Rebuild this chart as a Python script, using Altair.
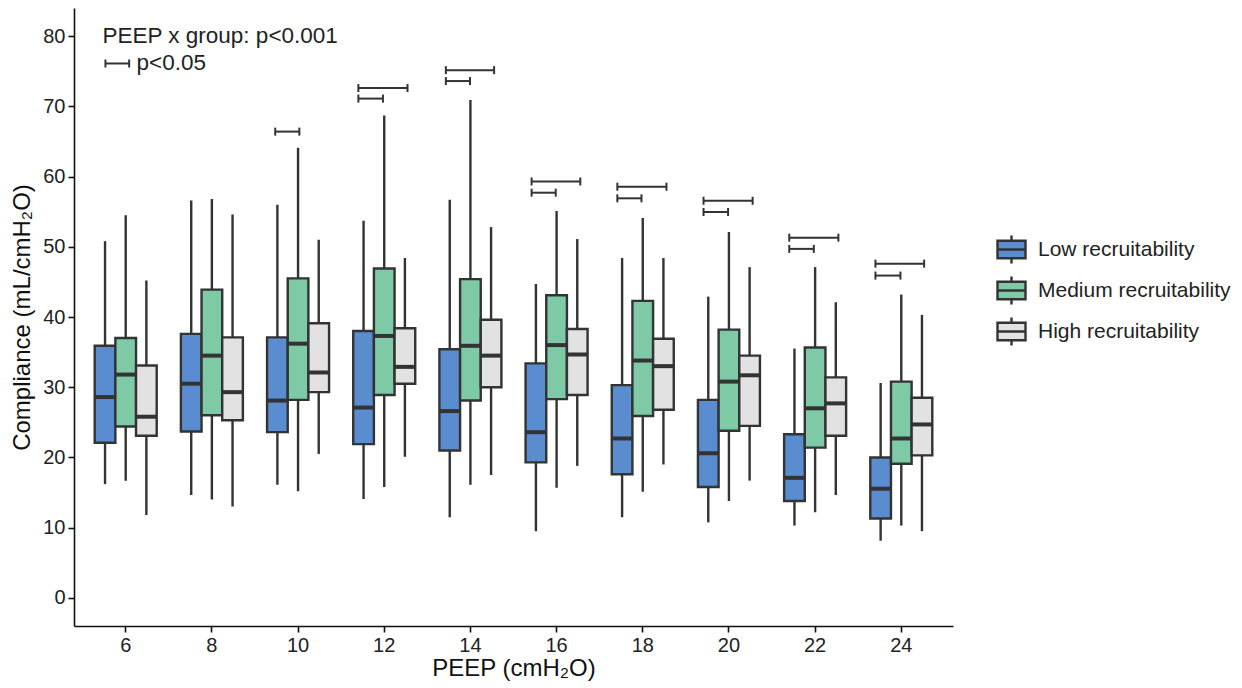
import altair as alt
import pandas as pd

peep = [6, 8, 10, 12, 14, 16, 18, 20, 22, 24]
groups = ["Low recruitability", "Medium recruitability", "High recruitability"]
colors = ["#5a8dd0", "#7ecaa6", "#e2e2e2"]

# five-number summaries (whisker low, Q1, median, Q3, whisker high)
low_lo = [16.2, 14.65, 16.1, 14.1, 11.5, 9.5, 11.5, 10.75, 10.3, 8.15]
low_q1 = [22.1, 23.7, 23.6, 21.9, 21.0, 19.3, 17.6, 15.8, 13.8, 11.3]
low_med = [28.6, 30.5, 28.1, 27.1, 26.6, 23.6, 22.7, 20.6, 17.1, 15.55]
low_q3 = [35.9, 37.6, 37.1, 38.0, 35.4, 33.4, 30.3, 28.2, 23.3, 20.0]
low_hi = [50.8, 56.6, 56.0, 53.7, 56.7, 44.7, 48.4, 42.9, 35.5, 30.6]

med_lo = [16.7, 14.0, 15.2, 15.8, 16.1, 15.7, 15.1, 13.8, 12.2, 10.3]
med_q1 = [24.4, 26.0, 28.2, 28.9, 28.1, 28.3, 25.9, 23.8, 21.4, 19.1]
med_med = [31.8, 34.5, 36.2, 37.3, 35.9, 36.0, 33.8, 30.8, 27.0, 22.7]
med_q3 = [37.0, 43.9, 45.5, 46.9, 45.4, 43.1, 42.3, 38.2, 35.65, 30.8]
med_hi = [54.5, 56.8, 64.1, 68.7, 70.9, 55.1, 54.1, 52.1, 47.1, 43.2]

high_lo = [11.8, 13.0, 20.5, 20.1, 17.5, 18.8, 19.0, 16.7, 14.65, 9.5]
high_q1 = [23.1, 25.3, 29.3, 30.5, 30.0, 28.9, 26.8, 24.5, 23.1, 20.3]
high_med = [25.8, 29.3, 32.1, 32.9, 34.5, 34.65, 33.0, 31.7, 27.7, 24.7]
high_q3 = [33.1, 37.1, 39.1, 38.4, 39.6, 38.3, 36.9, 34.5, 31.4, 28.5]
high_hi = [45.2, 54.6, 51.0, 48.4, 52.8, 51.1, 48.4, 47.1, 42.1, 40.3]

# significance brackets (x in PEEP units, y in compliance units); first one is the key
br_x1 = [5.53, 9.47, 11.40, 11.40, 13.43, 13.43, 15.42, 15.42, 17.41, 17.41, 19.41, 19.41, 21.40, 21.40, 23.40, 23.40]
br_x2 = [6.08, 10.03, 11.97, 12.54, 13.99, 14.55, 15.98, 16.55, 17.97, 18.55, 19.98, 20.55, 21.97, 22.54, 23.98, 24.53]
br_y = [76.1, 66.4, 71.1, 72.6, 73.6, 75.15, 57.7, 59.3, 56.9, 58.55, 54.95, 56.55, 49.7, 51.3, 45.9, 47.6]

note_text = ["PEEP x group: p<0.001", "p<0.05"]
note_x = [5.46, 6.25]
note_y = [80.0, 76.1]

rows = []
for g, lo, q1, md, q3, hi in [
    (groups[0], low_lo, low_q1, low_med, low_q3, low_hi),
    (groups[1], med_lo, med_q1, med_med, med_q3, med_hi),
    (groups[2], high_lo, high_q1, high_med, high_q3, high_hi),
]:
    for i, p in enumerate(peep):
        rows.append(dict(peep=p, group=g, lo=lo[i], q1=q1[i], med=md[i], q3=q3[i], hi=hi[i]))
box_df = pd.DataFrame(rows)

br_df = pd.DataFrame(dict(x1=br_x1, x2=br_x2, y=br_y))
cap_df = pd.DataFrame(dict(x=br_x1 + br_x2, y=br_y + br_y))
note_df = pd.DataFrame(dict(text=note_text, x=note_x, y=note_y))

FONT = "Liberation Sans"
DARK = "#333333"
ydom = [-4, 84]

xband = alt.X(
    "peep:O",
    sort=peep,
    scale=alt.Scale(paddingInner=0, paddingOuter=0.1),
    axis=alt.Axis(title="PEEP (cmH₂O)", labelAngle=0, tickBand="center", titlePadding=1),
)
xoff = alt.XOffset("group:N", sort=groups, scale=alt.Scale(paddingInner=0, paddingOuter=0.585))
yscale = alt.Scale(domain=ydom, nice=False, zero=False)

base = alt.Chart(box_df)

whisk = base.mark_rule(color=DARK, strokeWidth=2.4).encode(
    x=xband,
    xOffset=xoff,
    y=alt.Y("lo:Q", scale=yscale, axis=alt.Axis(title="Compliance (mL/cmH₂O)", values=list(range(0, 81, 10)), titlePadding=8)),
    y2="hi:Q",
)

boxes = base.mark_bar(stroke=DARK, strokeWidth=2.4).encode(
    x=xband,
    xOffset=xoff,
    y=alt.Y("q1:Q", scale=yscale),
    y2="q3:Q",
    fill=alt.Fill(
        "group:N",
        sort=groups,
        scale=alt.Scale(domain=groups, range=colors),
        legend=alt.Legend(
            title=None,
            orient="none",
            legendX=922,
            legendY=226,
            symbolType="M-1,-0.62H1V0.62H-1Z M-1,0H1 M0,-0.62V-1 M0,0.62V1",
            symbolSize=784,
            symbolStrokeColor=DARK,
            symbolStrokeWidth=2.4,
            symbolOpacity=1,
            labelFontSize=21,
            labelFont=FONT,
            labelColor="#222222",
            labelOffset=11,
            labelLimit=300,
            rowPadding=2,
        ),
    ),
)

medians = base.mark_tick(color=DARK, thickness=4, size=21, opacity=1).encode(
    x=xband,
    xOffset=xoff,
    y=alt.Y("med:Q", scale=yscale),
)

box_layer = alt.layer(whisk, boxes, medians)

xq = alt.Scale(domain=[4.8, 25.2], nice=False, zero=False)

br_lines = alt.Chart(br_df).mark_rule(color=DARK, strokeWidth=2).encode(
    x=alt.X("x1:Q", scale=xq, axis=None),
    x2="x2:Q",
    y=alt.Y("y:Q", scale=yscale),
)
br_caps = alt.Chart(cap_df).mark_tick(color=DARK, orient="vertical", size=8, thickness=2, opacity=1).encode(
    x=alt.X("x:Q", scale=xq, axis=None),
    y=alt.Y("y:Q", scale=yscale),
)
notes = alt.Chart(note_df).mark_text(align="left", baseline="middle", font=FONT, fontSize=22.5, color="#222222").encode(
    x=alt.X("x:Q", scale=xq, axis=None),
    y=alt.Y("y:Q", scale=yscale),
    text="text:N",
)
note_layer = alt.layer(br_lines, br_caps, notes)

chart = (
    alt.layer(box_layer, note_layer)
    .resolve_scale(x="independent")
    .properties(
        width=879,
        height=618,
        autosize=alt.AutoSizeParams(type="none"),
        padding={"left": 66, "top": 0, "right": 281, "bottom": 62},
        background="white",
    )
    .configure_view(stroke=None)
    .configure_axis(
        grid=False,
        domainColor="#111111",
        domainWidth=1.6,
        tickColor="#111111",
        tickWidth=1.6,
        tickSize=6,
        labelFont=FONT,
        labelFontSize=20,
        labelColor="#222222",
        labelPadding=3,
        titleFont=FONT,
        titleFontSize=24,
        titleFontWeight="normal",
        titleColor="#111111",
    )
)

chart.save("out.html", embed_options={"renderer": "svg", "actions": False})
